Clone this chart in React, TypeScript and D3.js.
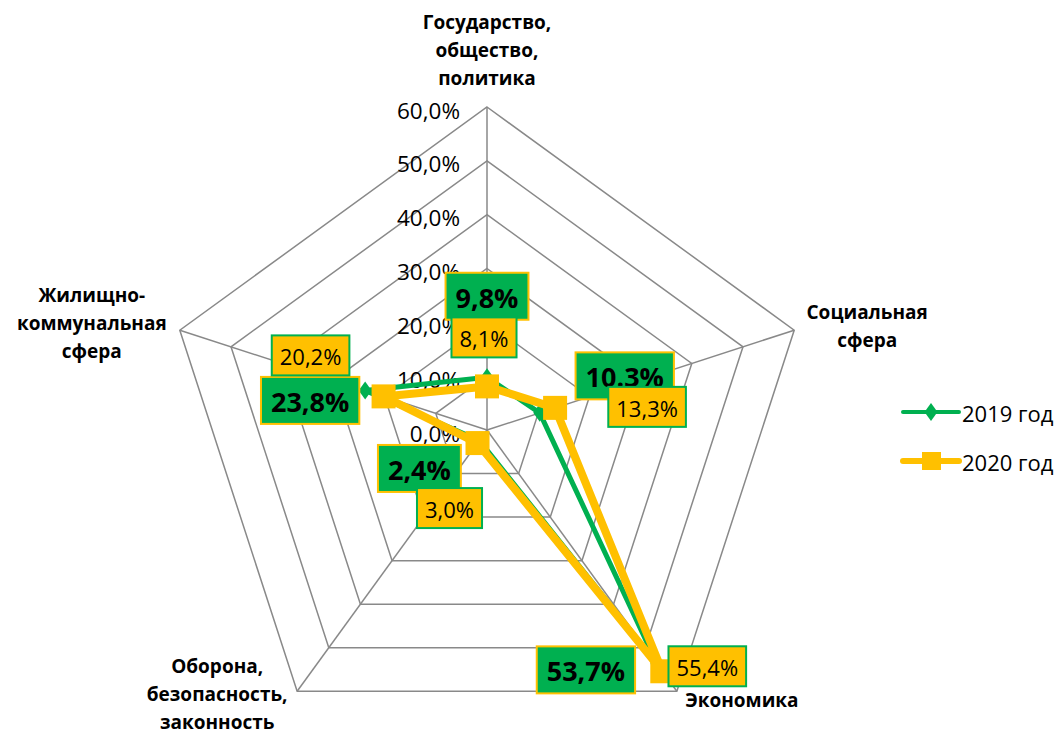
import { useEffect, useRef } from "react";
import * as d3 from "d3";

// chart data
const categories = [
  ["Государство,", "общество,", "политика"],
  ["Социальная", "сфера"],
  ["Экономика"],
  ["Оборона,", "безопасность,", "законность"],
  ["Жилищно-", "коммунальная", "сфера"],
];
const values2019 = [9.8, 10.3, 53.7, 2.4, 23.8];
const values2020 = [8.1, 13.3, 55.4, 3.0, 20.2];
const labels2019 = ["9,8%", "10.3%", "53,7%", "2,4%", "23,8%"];
const labels2020 = ["8,1%", "13,3%", "55,4%", "3,0%", "20,2%"];
const tickValues = [0, 10, 20, 30, 40, 50, 60];
const seriesNames = ["2019 год", "2020 год"];

// layout
const width = 1063;
const height = 737;
const center = { x: 487, y: 430 };
const radius = 323;
const green = "#00B050";
const orange = "#FFC000";
const gridColor = "#898989";
const font = "'Open Sans', 'Noto Sans', sans-serif";
const offsets2019 = [[0, -81], [85, -37], [-71, 6], [-60, 28], [-55, 10]];
const offsets2020 = [[-3, -49], [92, -1], [45, -5], [-28, 65], [-73, -41]];
const catOffsets = [[0, -85], [73, -18], [65, 9], [-80, -25], [-88, -35]];

export default function App() {
  const ref = useRef<SVGSVGElement>(null);

  useEffect(() => {
    const svg = d3.select(ref.current);
    svg.selectAll("*").remove();

    const r = d3.scaleLinear().domain([0, 60]).range([0, radius]);
    const n = categories.length;
    const angle = (i: number) => (i * 2 * Math.PI) / n;
    const pos = (v: number, i: number): [number, number] => [
      center.x + r(v) * Math.sin(angle(i)),
      center.y - r(v) * Math.cos(angle(i)),
    ];

    const g = svg.append("g");

    // grid rings
    const ring = d3
      .lineRadial<number>()
      .angle((_, i) => angle(i))
      .radius((d) => r(d))
      .curve(d3.curveLinearClosed);
    tickValues.slice(1).forEach((t) => {
      g.append("path")
        .attr("transform", `translate(${center.x},${center.y})`)
        .attr("d", ring(d3.range(n).map(() => t)))
        .attr("fill", "none")
        .attr("stroke", gridColor)
        .attr("stroke-width", 1.5);
    });
    // spokes
    d3.range(n).forEach((i) => {
      const [x, y] = pos(60, i);
      g.append("line")
        .attr("x1", center.x)
        .attr("y1", center.y)
        .attr("x2", x)
        .attr("y2", y)
        .attr("stroke", gridColor)
        .attr("stroke-width", 1.5);
    });

    // axis tick labels
    const fmt = (v: number) => d3.format(".1f")(v).replace(".", ",") + "%";
    g.selectAll(".tick")
      .data(tickValues)
      .enter()
      .append("text")
      .attr("x", center.x - 27)
      .attr("y", (d) => center.y - r(d) + 3)
      .attr("text-anchor", "end")
      .attr("dominant-baseline", "central")
      .attr("font-family", font)
      .attr("font-size", 22.5)
      .attr("fill", "#000")
      .text(fmt);

    // category labels
    categories.forEach((lines, i) => {
      const [x, y] = pos(60, i);
      const [dx, dy] = catOffsets[i];
      lines.forEach((line, k) => {
        g.append("text")
          .attr("x", x + dx)
          .attr("y", y + dy + k * 28)
          .attr("text-anchor", "middle")
          .attr("dominant-baseline", "central")
          .attr("font-family", font)
          .attr("font-weight", "bold")
          .attr("font-size", 19)
          .text(line);
      });
    });

    const line = d3
      .line<number>()
      .x((d, i) => pos(d, i)[0])
      .y((d, i) => pos(d, i)[1])
      .curve(d3.curveLinearClosed);

    const diamond = "M0,-9L6.5,0L0,9L-6.5,0Z";

    // 2019 series
    g.append("path")
      .attr("d", line(values2019))
      .attr("fill", "none")
      .attr("stroke", green)
      .attr("stroke-width", 5)
      .attr("stroke-linejoin", "round");
    g.selectAll(".m2019")
      .data(values2019)
      .enter()
      .append("path")
      .attr("d", diamond)
      .attr("transform", (d, i) => `translate(${pos(d, i)})`)
      .attr("fill", green);

    // 2020 series
    g.append("path")
      .attr("d", line(values2020))
      .attr("fill", "none")
      .attr("stroke", orange)
      .attr("stroke-width", 8)
      .attr("stroke-linejoin", "round");
    g.selectAll(".m2020")
      .data(values2020)
      .enter()
      .append("rect")
      .attr("x", (d, i) => pos(d, i)[0] - 12)
      .attr("y", (d, i) => pos(d, i)[1] - 12)
      .attr("width", 24)
      .attr("height", 24)
      .attr("fill", orange);

    // data label boxes
    const drawLabels = (
      vals: number[],
      labels: string[],
      offsets: number[][],
      fill: string,
      stroke: string,
      size: number,
      weight: string,
      boxH: number,
      padX: number
    ) => {
      vals.forEach((v, i) => {
        const [px, py] = pos(v, i);
        const cx = px + offsets[i][0];
        const cy = py + offsets[i][1];
        const lg = g.append("g");
        const rect = lg.append("rect");
        const txt = lg
          .append("text")
          .attr("x", cx)
          .attr("y", cy + 1)
          .attr("text-anchor", "middle")
          .attr("dominant-baseline", "central")
          .attr("font-family", font)
          .attr("font-size", size)
          .attr("font-weight", weight)
          .attr("fill", "#000")
          .text(labels[i]);
        const w = (txt.node() as SVGTextElement).getComputedTextLength() + padX * 2;
        rect
          .attr("x", cx - w / 2)
          .attr("y", cy - boxH / 2)
          .attr("width", w)
          .attr("height", boxH)
          .attr("fill", fill)
          .attr("stroke", stroke)
          .attr("stroke-width", 2);
      });
    };
    drawLabels(values2019, labels2019, offsets2019, green, orange, 27, "bold", 47, 10);
    drawLabels(values2020, labels2020, offsets2020, orange, green, 22, "normal", 40, 8);

    // legend
    const legend = svg.append("g").attr("transform", "translate(903,412)");
    seriesNames.forEach((name, k) => {
      const row = legend.append("g").attr("transform", `translate(0,${k * 49})`);
      row.append("line")
        .attr("x1", 0)
        .attr("x2", 56)
        .attr("stroke", k === 0 ? green : orange)
        .attr("stroke-width", k === 0 ? 4 : 6)
        .attr("stroke-linecap", "round");
      if (k === 0) {
        row.append("path").attr("d", diamond).attr("transform", "translate(28,0)").attr("fill", green);
      } else {
        row.append("rect").attr("x", 19).attr("y", -9).attr("width", 19).attr("height", 18).attr("fill", orange);
      }
      row.append("text")
        .attr("x", 59)
        .attr("y", 1)
        .attr("dominant-baseline", "central")
        .attr("font-family", font)
        .attr("font-size", 22)
        .text(name);
    });
  }, []);

  return (
    <svg
      ref={ref}
      width={width}
      height={height}
      style={{ position: "absolute", left: 0, top: 0, background: "#fff" }}
    />
  );
}
